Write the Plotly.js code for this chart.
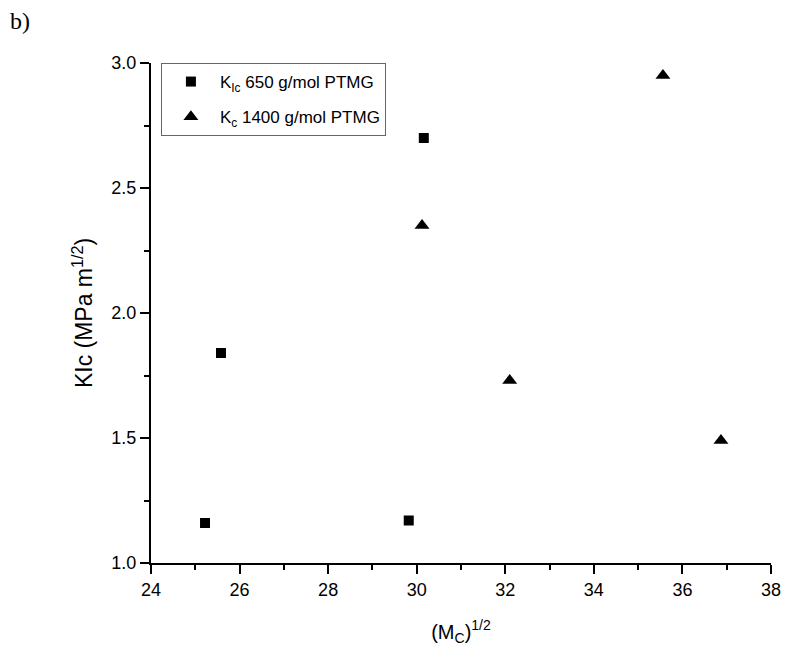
<!DOCTYPE html>
<html>
<head>
<meta charset="utf-8">
<script src="https://cdn.plot.ly/plotly-3.0.1.min.js"></script>
<style>html,body{margin:0;padding:0;background:#fff;}#chart{width:785px;height:653px;}</style>
</head>
<body>
<div id="chart"></div>
<script>
const kic650_x = [25.22, 25.58, 29.82, 30.16];
const kic650_y = [1.16, 1.84, 1.17, 2.70];
const kc1400_x = [30.12, 32.10, 35.56, 36.87];
const kc1400_y = [2.35, 1.73, 2.95, 1.49];
const seriesNames = ["K<sub>Ic</sub> 650 g/mol PTMG", "K<sub>c</sub> 1400 g/mol PTMG"];

const traces = [
  {x: kic650_x, y: kic650_y, mode: 'markers', type: 'scatter', name: seriesNames[0], legendgroup: 'g1',
   marker: {symbol: 'square', size: 10, color: '#000'}},
  {x: kc1400_x, y: kc1400_y, mode: 'markers', type: 'scatter', name: seriesNames[1], legendgroup: 'g2',
   marker: {symbol: 'triangle-up', size: 13, color: '#000'}}
];

const FONT = 'Liberation Sans';
const axisFont = {family: FONT, size: 18, color: '#000'};
const layout = {
  width: 785, height: 653,
  margin: {l: 151, r: 14, t: 63, b: 90},
  paper_bgcolor: '#fff', plot_bgcolor: '#fff',
  showlegend: true,
  legend: {x: 0.016, y: 1.0, xanchor: 'left', yanchor: 'top', bordercolor: '#666', borderwidth: 1,
           bgcolor: '#fff', font: {family: FONT, size: 17, color: '#000'},
           tracegroupgap: 10, itemwidth: 48},
  xaxis: {range: [24, 38], dtick: 2, tick0: 24, ticks: 'outside', ticklen: 9, tickwidth: 2, tickcolor: '#000',
          showline: true, linecolor: '#000', linewidth: 2, showgrid: false, zeroline: false, mirror: false,
          tickfont: axisFont, tickformat: 'd',
          minor: {dtick: 1, ticks: 'outside', ticklen: 5, tickwidth: 2, tickcolor: '#000', showgrid: false},
          title: {text: '(M<sub>C</sub>)<sup>1/2</sup>', font: {family: FONT, size: 20, color: '#000'}, standoff: 26}},
  yaxis: {range: [1.0, 3.0], dtick: 0.5, tick0: 1.0, ticks: 'outside', ticklen: 9, tickwidth: 2, tickcolor: '#000',
          showline: true, linecolor: '#000', linewidth: 2, showgrid: false, zeroline: false, mirror: false,
          tickfont: axisFont, tickformat: '.1f',
          minor: {dtick: 0.25, ticks: 'outside', ticklen: 5, tickwidth: 2, tickcolor: '#000', showgrid: false},
          title: {text: 'KIc (MPa m<sup>1/2</sup>)', font: {family: FONT, size: 23, color: '#000'}, standoff: 12}},
  annotations: [
    {text: 'b)', xref: 'paper', yref: 'paper', x: -143/620, y: 1 + 42/500, xanchor: 'left', yanchor: 'middle',
     showarrow: false, font: {family: 'Liberation Serif', size: 24, color: '#000'}}
  ]
};

Plotly.newPlot('chart', traces, layout, {displayModeBar: false, staticPlot: true});
</script>
</body>
</html>
